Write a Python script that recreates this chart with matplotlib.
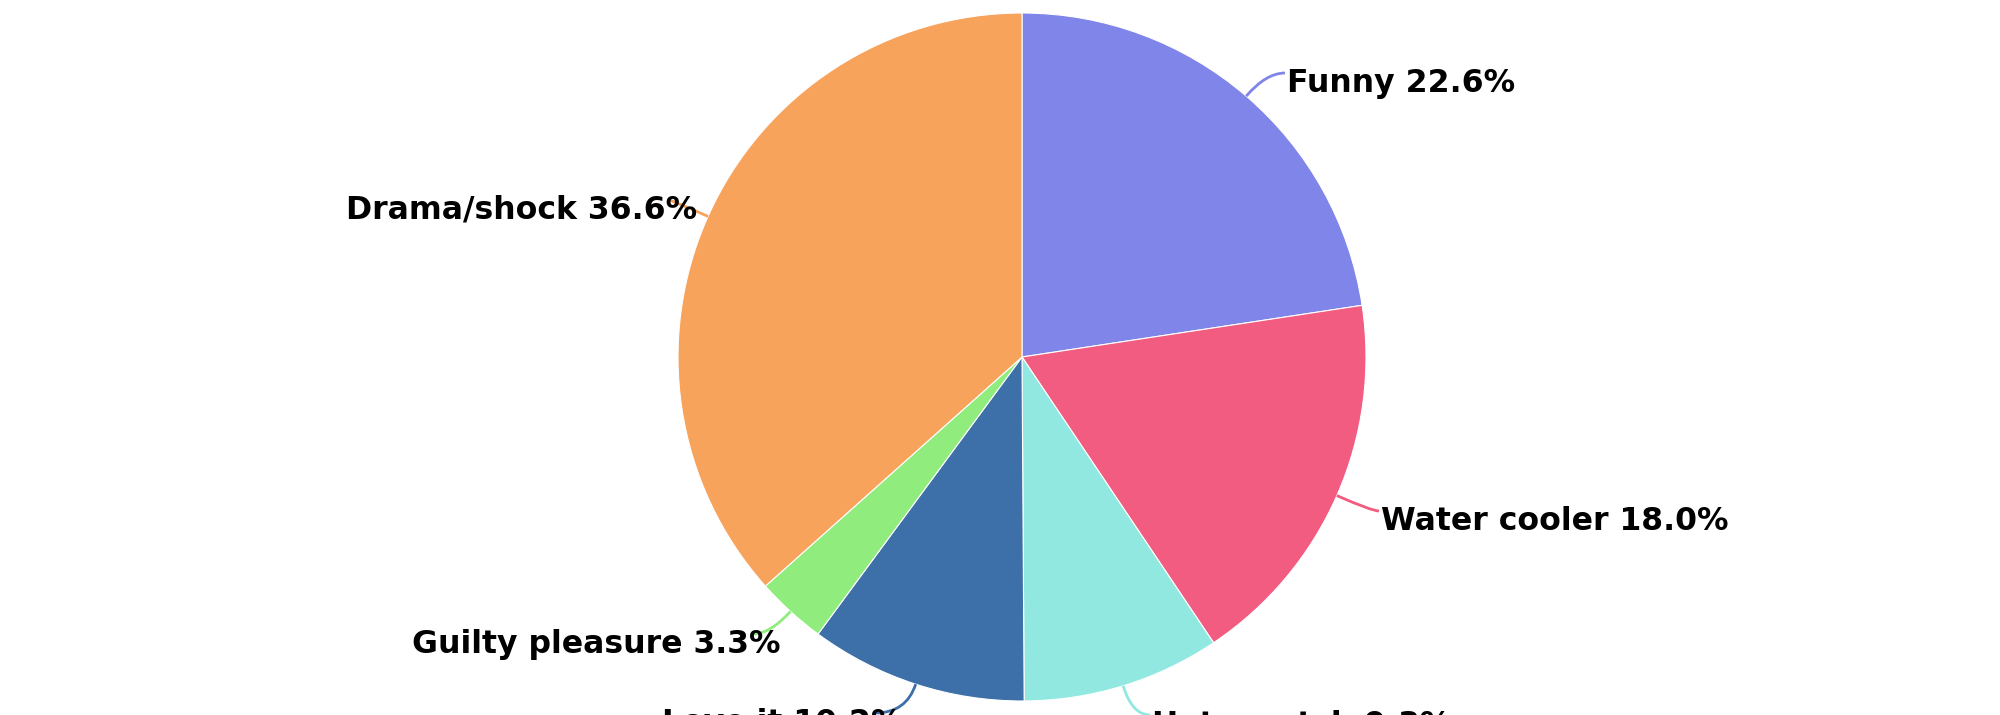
import numpy as np
import matplotlib
matplotlib.use('Agg')
import matplotlib.pyplot as plt
from matplotlib.path import Path
from matplotlib.patches import PathPatch

# data
labels = ['Funny', 'Water cooler', 'Hate watch', 'Love it', 'Guilty pleasure', 'Drama/shock']
values = [22.6, 18.0, 9.3, 10.2, 3.3, 36.6]
colors = ['#8085e9', '#f15c80', '#91e8e1', '#3d6fa8', '#90ed7d', '#f7a35c']

# layout (pixel space, y up)
W, H = 2000, 715
cx, cy, r = 1022, 358, 344
label_x = [1287, 1381, 1152, 903, 781, 697]
label_y = [623, 185, -19, -17, 62, 496]

fig = plt.figure(figsize=(20, 7.15), dpi=100)
ax = fig.add_axes([0, 0, 1, 1])

wedges, _ = ax.pie(values, colors=colors, startangle=90, counterclock=False,
                   center=(cx, cy), radius=r, frame=True,
                   wedgeprops=dict(edgecolor='white', linewidth=0.8))
ax.set_xlim(0, W)
ax.set_ylim(0, H)
ax.set_aspect('equal')
ax.axis('off')

# connectors + labels
total = sum(values)
start = 0.0
for lab, v, c, lx, ly in zip(labels, values, colors, label_x, label_y):
    mid = (start + v / 2) / total * 2 * np.pi
    start += v
    dx, dy = np.sin(mid), np.cos(mid)
    sx, sy = cx + r * dx, cy + r * dy
    right = dx > 0
    ex = lx - 2 if right else lx - 28
    ey = ly + 19
    t = (ey - sy) / dy if abs(dy) > 1e-6 else 0
    kx = sx + t * dx
    path = Path([(sx, sy), (kx, ey), (ex, ey)], [Path.MOVETO, Path.CURVE3, Path.CURVE3])
    ax.add_patch(PathPatch(path, fill=False, edgecolor=c, lw=2, zorder=1))
    ax.text(lx, ly, f'{lab} {v:.1f}%', ha='left' if right else 'right', va='baseline',
            fontsize=22.7, fontweight='bold', color='black', family='DejaVu Sans', zorder=3)

fig.savefig('out.png', dpi=100, facecolor='white')
